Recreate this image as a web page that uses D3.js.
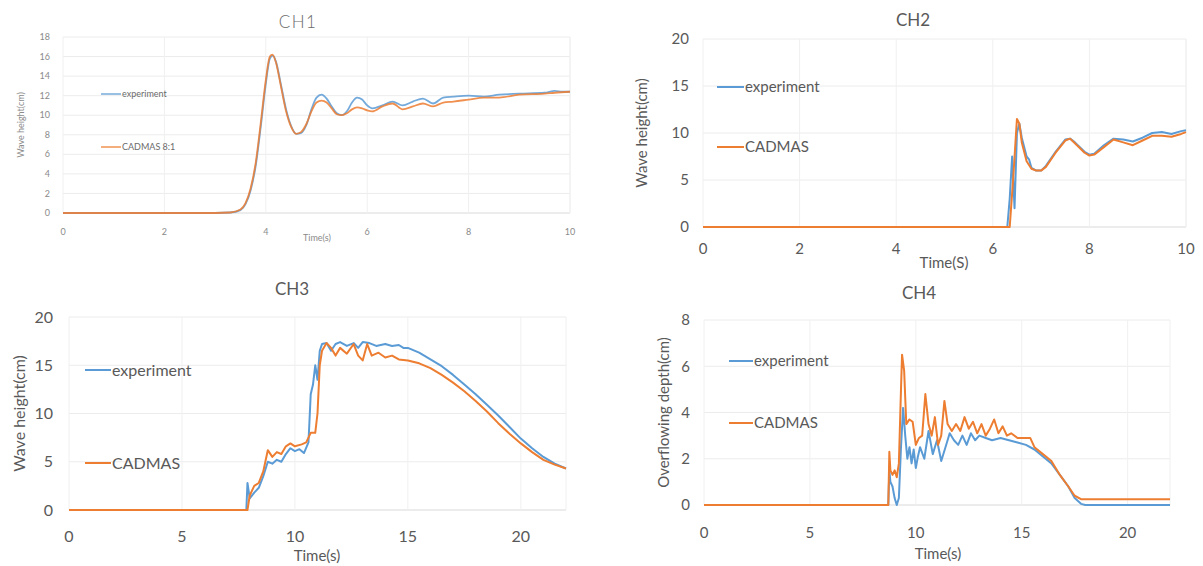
<!DOCTYPE html>
<html lang="en">
<head>
<meta charset="UTF-8">
<title>CH1-CH4 wave height</title>
<script src="https://d3js.org/d3.v7.min.js"></script>
<style>
  body { margin: 0; background: #fff; }
  svg { display: block; font-family: Lato, "Open Sans", sans-serif; }
</style>
</head>
<body>
<div id="chart"></div>
<script>
// ---- data (time s, value cm) ----
const seriesNames = ["experiment", "CADMAS"];

const ch1Exp = [[0,0],[1,0],[2,0],[3,0],[3.3,0.05],[3.5,0.3],[3.6,0.9],[3.7,2.3],[3.8,4.8],[3.9,8.8],[4.0,13.2],[4.08,15.8],[4.14,16.1],[4.2,15.5],[4.3,13.1],[4.4,10.6],[4.5,8.9],[4.6,8.1],[4.7,8.2],[4.8,9.0],[4.9,10.6],[5.0,11.8],[5.1,12.1],[5.2,11.7],[5.3,10.9],[5.4,10.2],[5.5,10.0],[5.6,10.4],[5.7,11.3],[5.8,11.8],[5.9,11.6],[6.0,11.0],[6.1,10.7],[6.3,11.0],[6.5,11.4],[6.7,11.0],[6.9,11.4],[7.1,11.7],[7.3,11.2],[7.5,11.8],[7.7,11.9],[8.0,12.0],[8.3,11.9],[8.6,12.1],[9.0,12.2],[9.5,12.3],[9.7,12.5],[9.85,12.4],[10,12.4]];
const ch1Cad = [[0,0],[1,0],[2,0],[3,0],[3.3,0.05],[3.5,0.35],[3.6,1.0],[3.7,2.5],[3.8,5.1],[3.9,9.2],[4.0,13.6],[4.08,16.0],[4.13,16.2],[4.2,15.4],[4.3,12.9],[4.4,10.4],[4.5,8.8],[4.6,8.1],[4.7,8.3],[4.8,9.1],[4.9,10.4],[5.0,11.3],[5.1,11.5],[5.2,11.3],[5.3,10.7],[5.4,10.1],[5.5,10.0],[5.6,10.2],[5.7,10.6],[5.8,10.8],[5.9,10.7],[6.0,10.5],[6.1,10.4],[6.3,10.9],[6.5,11.2],[6.7,10.6],[6.9,10.9],[7.1,11.2],[7.3,10.9],[7.5,11.3],[7.7,11.4],[8.0,11.6],[8.3,11.8],[8.6,11.8],[9.0,12.1],[9.5,12.2],[9.7,12.3],[10,12.4]];

const ch2Exp = [[0,0],[2,0],[4,0],[6,0],[6.3,0],[6.35,3],[6.4,7.5],[6.45,2],[6.5,10],[6.55,11],[6.6,9.5],[6.7,7.5],[6.75,7.2],[6.8,6.3],[6.9,6.0],[7.0,6.0],[7.1,6.5],[7.3,8.0],[7.5,9.3],[7.6,9.4],[7.7,9.0],[7.9,8.0],[8.0,7.7],[8.1,7.8],[8.3,8.7],[8.5,9.4],[8.7,9.3],[8.9,9.1],[9.1,9.5],[9.3,10.0],[9.5,10.1],[9.7,9.9],[9.9,10.2],[10,10.3]];
const ch2Cad = [[0,0],[2,0],[4,0],[6,0],[6.35,0],[6.42,5],[6.5,11.5],[6.55,11],[6.6,9],[6.7,7.0],[6.8,6.2],[6.9,6.0],[7.0,6.0],[7.1,6.4],[7.3,7.9],[7.5,9.2],[7.6,9.4],[7.7,8.9],[7.9,7.9],[8.0,7.6],[8.1,7.7],[8.3,8.5],[8.5,9.3],[8.7,9.0],[8.9,8.7],[9.1,9.2],[9.3,9.7],[9.5,9.7],[9.7,9.6],[9.9,9.9],[10,10.1]];

const ch3Exp = [[0,0],[5,0],[7.85,0],[7.9,2.8],[8.0,1.2],[8.2,1.8],[8.4,2.3],[8.6,3.5],[8.8,5.0],[9.0,4.8],[9.2,5.2],[9.4,5.0],[9.6,5.8],[9.8,6.4],[10.0,6.1],[10.2,6.3],[10.4,5.9],[10.6,7.0],[10.7,12],[10.8,13],[10.9,15],[11.0,13.5],[11.1,16.5],[11.2,17.2],[11.4,17.3],[11.6,16.5],[11.8,17.2],[12.0,17.4],[12.3,17.0],[12.6,17.3],[12.8,16.8],[13.0,17.4],[13.3,17.3],[13.6,17.0],[14.0,17.2],[14.3,17.0],[14.6,17.1],[14.8,16.8],[15.0,16.8],[15.5,16.3],[16.0,15.6],[16.5,14.9],[17.0,14.0],[17.5,13.0],[18.0,12.0],[18.5,10.9],[19.0,9.8],[19.5,8.6],[20.0,7.4],[20.5,6.4],[21.0,5.5],[21.5,4.8],[22.0,4.3]];
const ch3Cad = [[0,0],[5,0],[7.9,0],[8.0,1.5],[8.2,2.5],[8.4,2.8],[8.6,4.0],[8.8,6.2],[9.0,5.5],[9.2,6.0],[9.4,5.8],[9.6,6.6],[9.8,6.9],[10.0,6.6],[10.3,6.8],[10.5,7.0],[10.7,8.0],[10.9,8.0],[11.0,10],[11.1,15],[11.2,16.5],[11.4,17.3],[11.6,16.8],[11.8,16.0],[12.0,16.8],[12.3,16.2],[12.6,17.2],[12.8,16.0],[13.0,15.5],[13.2,17.2],[13.4,16.0],[13.7,16.3],[14.0,15.8],[14.3,16.0],[14.6,15.6],[15.0,15.5],[15.5,15.2],[16.0,14.7],[16.5,14.0],[17.0,13.2],[17.5,12.3],[18.0,11.3],[18.5,10.2],[19.0,9.0],[19.5,7.9],[20.0,6.9],[20.5,6.0],[21.0,5.2],[21.5,4.7],[22.0,4.3]];

const ch4Exp = [[0,0],[5,0],[8.7,0],[8.75,1.5],[8.8,1.0],[8.9,0.8],[9.0,0.3],[9.1,0.0],[9.2,0.3],[9.3,2.5],[9.4,4.2],[9.5,3.0],[9.6,2.0],[9.7,2.5],[9.8,1.8],[9.9,2.4],[10.0,1.6],[10.1,2.1],[10.2,2.5],[10.4,2.0],[10.6,3.2],[10.8,2.2],[11.0,2.8],[11.2,1.9],[11.4,2.5],[11.6,3.1],[11.8,2.8],[12.0,2.6],[12.2,3.0],[12.4,2.6],[12.6,3.1],[12.8,2.8],[13.0,3.0],[13.3,2.9],[13.6,2.8],[14.0,2.9],[14.4,2.8],[14.8,2.7],[15.2,2.6],[15.6,2.4],[16.0,2.1],[16.4,1.8],[16.8,1.3],[17.2,0.8],[17.5,0.3],[17.8,0.05],[18.0,0],[22,0]];
const ch4Cad = [[0,0],[5,0],[8.7,0],[8.75,2.3],[8.8,1.5],[8.9,1.3],[9.0,1.5],[9.1,1.2],[9.2,1.8],[9.3,5.0],[9.35,6.5],[9.45,5.8],[9.55,3.5],[9.7,3.7],[9.85,3.6],[10.0,2.6],[10.15,2.9],[10.3,3.0],[10.45,4.8],[10.6,3.5],[10.75,3.0],[10.9,3.8],[11.05,2.6],[11.2,3.0],[11.35,4.5],[11.5,3.5],[11.7,3.2],[11.9,3.5],[12.1,3.2],[12.3,3.8],[12.5,3.3],[12.7,3.6],[12.9,3.1],[13.1,3.5],[13.3,3.0],[13.5,3.3],[13.7,3.7],[13.9,3.1],[14.1,3.4],[14.3,3.0],[14.5,3.1],[14.8,2.9],[15.1,2.9],[15.4,2.9],[15.6,2.5],[16.0,2.2],[16.4,1.9],[16.8,1.3],[17.2,0.8],[17.5,0.4],[17.8,0.25],[18,0.25],[22,0.25]];

const xTicks10 = [0, 2, 4, 6, 8, 10];
const xTicks22 = [0, 5, 10, 15, 20];
const yTicksCh1 = [0, 2, 4, 6, 8, 10, 12, 14, 16, 18];
const yTicks20 = [0, 5, 10, 15, 20];
const yTicksCh4 = [0, 2, 4, 6, 8];

const colors = ["#5b9bd5", "#ed7d31"];

const W = 1203, H = 566;
const svg = d3.select("#chart").append("svg").attr("width", W).attr("height", H);

// layout for each panel
const panels = [
  { title: "CH1", exp: ch1Exp, cad: ch1Cad, legend: ["experiment", "CADMAS 8:1"],
    xDom: [0, 10], xTicks: xTicks10, yDom: [0, 18], yTicks: yTicksCh1,
    x0: 63, x1: 570, y0: 213, y1: 37, tickFont: 9, titleFont: 17, textColor: "#8a8a8a",
    titlePos: [298, 28], yTitle: "Wave height(cm)", yTitleFont: 9, yTitleX: 21,
    xTitle: "Time(s)", xTitlePos: [317, 241], xTitleFont: 9, xLabY: 232, yLabX: 50,
    legY: [94, 147], legX: [101, 121], legFont: 9, lw: 1.8, thin: true },
  { title: "CH2", exp: ch2Exp, cad: ch2Cad, legend: ["experiment", "CADMAS"],
    xDom: [0, 10], xTicks: xTicks10, yDom: [0, 20], yTicks: yTicks20,
    x0: 703, x1: 1186, y0: 227, y1: 39, tickFont: 15, titleFont: 17, textColor: "#595959",
    titlePos: [913, 26], yTitle: "Wave height(cm)", yTitleFont: 15, yTitleX: 642,
    xTitle: "Time(S)", xTitlePos: [944, 268], xTitleFont: 15, xLabY: 249, yLabX: 689,
    legY: [87, 147], legX: [717, 744], legFont: 15, lw: 2 },
  { title: "CH3", exp: ch3Exp, cad: ch3Cad, legend: ["experiment", "CADMAS"],
    xDom: [0, 22], xTicks: xTicks22, yDom: [0, 20], yTicks: yTicks20,
    x0: 69, x1: 566, y0: 510, y1: 317, tickFont: 16, titleFont: 17, textColor: "#595959",
    titlePos: [292, 295], yTitle: "Wave height(cm)", yTitleFont: 16, yTitleX: 19,
    xTitle: "Time(s)", xTitlePos: [317, 561], xTitleFont: 15, xLabY: 536, yLabX: 53,
    legY: [370, 463], legX: [85, 111], legFont: 16, lw: 2 },
  { title: "CH4", exp: ch4Exp, cad: ch4Cad, legend: ["experiment", "CADMAS"],
    xDom: [0, 22], xTicks: xTicks22, yDom: [0, 8], yTicks: yTicksCh4,
    x0: 704, x1: 1170, y0: 505, y1: 320, tickFont: 15, titleFont: 17, textColor: "#595959",
    titlePos: [919, 299], yTitle: "Overflowing depth(cm)", yTitleFont: 15, yTitleX: 664,
    xTitle: "Time(s)", xTitlePos: [938, 559], xTitleFont: 15, xLabY: 533, yLabX: 690,
    legY: [361, 423], legX: [729, 753], legFont: 15, lw: 2 }
];

panels.forEach(p => {
  const g = svg.append("g");
  const x = d3.scaleLinear().domain(p.xDom).range([p.x0, p.x1]);
  const y = d3.scaleLinear().domain(p.yDom).range([p.y0, p.y1]);

  // grid
  g.append("g").selectAll("line.h").data(p.yTicks).join("line")
    .attr("x1", p.x0).attr("x2", p.x1)
    .attr("y1", d => y(d)).attr("y2", d => y(d))
    .attr("stroke", d => d === 0 ? "#d9d9d9" : "#ececec").attr("stroke-width", 1);
  g.append("g").selectAll("line.v").data(p.xTicks).join("line")
    .attr("x1", d => x(d)).attr("x2", d => x(d))
    .attr("y1", p.y0).attr("y2", p.y1)
    .attr("stroke", "#f0f0f0").attr("stroke-width", 1);
  g.append("line").attr("x1", p.x1).attr("x2", p.x1).attr("y1", p.y0).attr("y2", p.y1)
    .attr("stroke", "#f0f0f0");

  // tick labels
  g.append("g").selectAll("text").data(p.yTicks).join("text")
    .attr("x", p.yLabX).attr("y", d => y(d)).attr("dy", "0.35em")
    .attr("text-anchor", "end").attr("font-size", p.tickFont).attr("fill", p.textColor)
    .text(d => d);
  g.append("g").selectAll("text").data(p.xTicks).join("text")
    .attr("x", d => x(d)).attr("y", p.xLabY).attr("dy", "0.35em")
    .attr("text-anchor", "middle").attr("font-size", p.tickFont).attr("fill", p.textColor)
    .text(d => d);

  // titles
  g.append("text").attr("x", p.titlePos[0]).attr("y", p.titlePos[1])
    .attr("text-anchor", "middle").attr("font-size", p.titleFont)
    .attr("fill", p.thin ? "#6b6b6b" : "#595959")
    .attr("font-weight", p.thin ? 300 : 400)
    .attr("letter-spacing", p.thin ? 1.5 : 0)
    .text(p.title);
  g.append("text")
    .attr("transform", `translate(${p.yTitleX},${(p.y0 + p.y1) / 2}) rotate(-90)`)
    .attr("dy", "0.35em").attr("text-anchor", "middle")
    .attr("font-size", p.yTitleFont).attr("fill", p.textColor).text(p.yTitle);
  g.append("text").attr("x", p.xTitlePos[0]).attr("y", p.xTitlePos[1])
    .attr("text-anchor", "middle").attr("font-size", p.xTitleFont).attr("fill", p.textColor)
    .text(p.xTitle);

  // lines (CH1 traces in the source are smooth)
  const line = d3.line().x(d => x(d[0])).y(d => y(d[1]))
    .curve(p.thin ? d3.curveMonotoneX : d3.curveLinear);
  [p.exp, p.cad].forEach((s, i) => {
    g.append("path").datum(s).attr("d", line)
      .attr("fill", "none").attr("stroke", colors[i])
      .attr("stroke-width", p.lw).attr("stroke-linejoin", "round")
      .attr("stroke-opacity", p.thin ? 0.85 : 1);
  });

  // legend
  p.legend.forEach((name, i) => {
    g.append("line").attr("x1", p.legX[0]).attr("x2", p.legX[1])
      .attr("y1", p.legY[i]).attr("y2", p.legY[i])
      .attr("stroke", colors[i]).attr("stroke-width", p.lw)
      .attr("stroke-opacity", p.thin ? 0.7 : 1);
    g.append("text").attr("x", p.legX[1] + 1).attr("y", p.legY[i]).attr("dy", "0.35em")
      .attr("font-size", p.legFont).attr("fill", p.thin ? "#6b6b6b" : p.textColor).text(name);
  });
});
</script>
</body>
</html>
